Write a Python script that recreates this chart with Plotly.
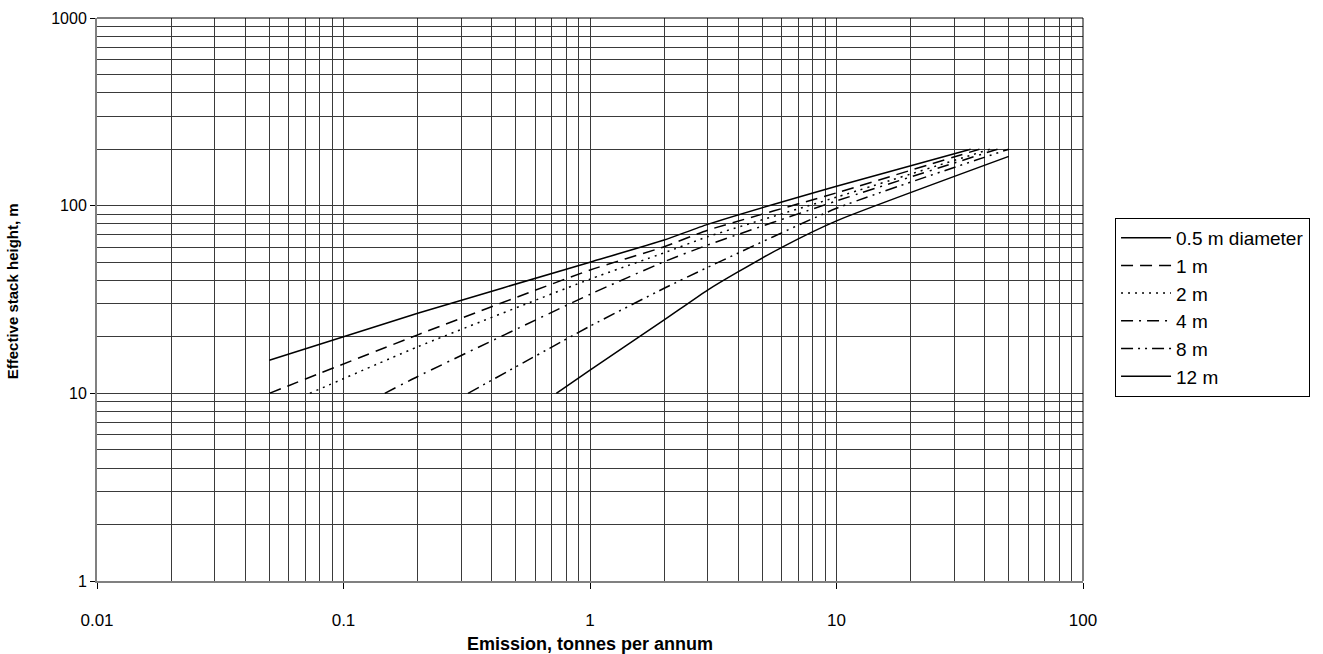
import plotly.graph_objects as go

# Emission rate (tonnes per annum) and effective stack height (m) for each stack diameter
emission_d05 = [0.05, 0.2, 1, 2, 3, 10, 35]
height_d05 = [15, 26.7, 50, 65.6, 79.5, 127, 200]

emission_d1 = [0.05, 0.2, 1, 2, 3, 10, 38]
height_d1 = [10, 20.5, 45.4, 60.4, 74, 117, 200]

emission_d2 = [0.073, 0.2, 1, 2, 3, 10, 42]
height_d2 = [10, 17.7, 40.6, 56.1, 68.3, 111, 200]

emission_d4 = [0.147, 0.2, 1, 2, 3, 10, 45]
height_d4 = [10, 12.3, 33.7, 50.3, 61.7, 106, 200]

emission_d8 = [0.32, 1, 2, 3, 10, 50]
height_d8 = [10, 22.8, 36.3, 46.9, 96.8, 200]

emission_d12 = [0.73, 1, 2, 3, 4, 6, 10, 50]
height_d12 = [10, 13.3, 24.6, 35.5, 44.5, 60, 83, 183]

series_names = ["0.5 m diameter", "1 m", "2 m", "4 m", "8 m", "12 m"]

x_tick_vals = [0.01, 0.1, 1, 10, 100]
x_tick_text = ["0.01", "0.1", "1", "10", "100"]
y_tick_vals = [1, 10, 100, 1000]
y_tick_text = ["1", "10", "100", "1000"]

series = [
    (emission_d05, height_d05, "solid"),
    (emission_d1, height_d1, "12px,7px"),
    (emission_d2, height_d2, "2px,5px"),
    (emission_d4, height_d4, "12px,6px,2px,6px"),
    (emission_d8, height_d8, "12px,5px,2px,5px,2px,5px"),
    (emission_d12, height_d12, "solid"),
]

fig = go.Figure()
for name, (xs, ys, dash) in zip(series_names, series):
    fig.add_trace(go.Scatter(
        x=xs, y=ys, mode="lines", name=name,
        line=dict(color="black", width=1.5, dash=dash,
                  shape="spline", smoothing=0.5),
    ))

# minor gridlines at 2..9 within each decade
x_minor = [m * 10 ** e for e in range(-2, 2) for m in range(2, 10)]
y_minor = [m * 10 ** e for e in range(0, 3) for m in range(2, 10)]

grid_color = "#3a3a3a"
font_family = "Liberation Sans, Arial, sans-serif"

fig.update_xaxes(
    type="log", range=[-2, 2],
    tickmode="array", tickvals=x_tick_vals, ticktext=x_tick_text,
    ticks="outside", ticklen=6, tickcolor="black", tickwidth=1,
    ticklabelstandoff=17,
    showgrid=True, gridcolor=grid_color, gridwidth=1,
    minor=dict(tickmode="array", tickvals=x_minor, showgrid=True,
               gridcolor=grid_color, gridwidth=1, ticks=""),
    showline=True, linecolor="#808080", linewidth=2,
    zeroline=False,
    tickfont=dict(family=font_family, size=17, color="black"),
)
fig.update_yaxes(
    type="log", range=[0, 3],
    tickmode="array", tickvals=y_tick_vals, ticktext=y_tick_text,
    ticks="outside", ticklen=5, tickcolor="black", tickwidth=1,
    showgrid=True, gridcolor=grid_color, gridwidth=1,
    minor=dict(tickmode="array", tickvals=y_minor, showgrid=True,
               gridcolor=grid_color, gridwidth=1, ticks=""),
    showline=True, linecolor="#808080", linewidth=2,
    zeroline=False,
    tickfont=dict(family=font_family, size=16, color="black"),
)

fig.update_layout(
    width=1323, height=654,
    margin=dict(l=97, r=240, t=18, b=73, autoexpand=False),
    paper_bgcolor="white", plot_bgcolor="white",
    font=dict(family=font_family, color="black"),
    showlegend=True,
    legend=dict(
        x=1.0325, y=0.645, xanchor="left", yanchor="top",
        bordercolor="black", borderwidth=1, bgcolor="white",
        font=dict(family=font_family, size=19, color="black"),
        itemwidth=50, tracegroupgap=0,
    ),
    shapes=[
        dict(type="line", xref="paper", yref="paper", x0=0, x1=1, y0=1, y1=1,
             line=dict(color="black", width=1)),
        dict(type="line", xref="paper", yref="paper", x0=1, x1=1, y0=0, y1=1,
             line=dict(color="black", width=1)),
    ],
    annotations=[
        dict(text="<b>Emission, tonnes per annum</b>", xref="paper", yref="paper",
             x=0.5, y=-0.112, xanchor="center", yanchor="middle", showarrow=False,
             font=dict(family=font_family, size=18, color="black")),
        dict(text="<b>Effective stack height, m</b>", xref="paper", yref="paper",
             x=-0.086, y=0.515, xanchor="center", yanchor="middle", showarrow=False,
             textangle=-90,
             font=dict(family=font_family, size=15, color="black")),
    ],
)

fig.write_html("out.html")
